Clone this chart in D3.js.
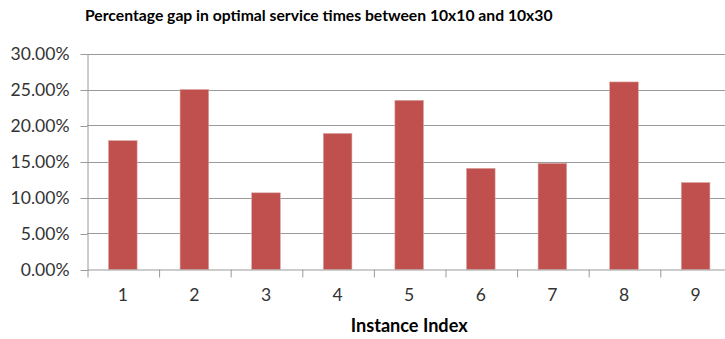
<!DOCTYPE html>
<html>
<head>
<meta charset="utf-8">
<script src="https://cdn.jsdelivr.net/npm/d3@7/dist/d3.min.js"></script>
<style>
  html, body { margin: 0; padding: 0; background: #fff; }
  svg { display: block; overflow: hidden; }
  text { font-family: Lato, "Open Sans", sans-serif; }
</style>
</head>
<body>
<svg id="chart" width="725" height="339"></svg>
<script>
// Instance indices and the percentage gap per instance
const instances = ["1", "2", "3", "4", "5", "6", "7", "8", "9"];
const gapValues = [0.179, 0.250, 0.1065, 0.189, 0.235, 0.1405, 0.1475, 0.2605, 0.1208];
const yTicks = [0, 0.05, 0.10, 0.15, 0.20, 0.25, 0.30];
const titleText = "Percentage gap in optimal service times between 10x10 and 10x30";
const xTitleText = "Instance Index";

const svg = d3.select("#chart");

// plot area (the right edge of the category axis runs past the visible frame)
const plotLeft = 87, plotRight = 731.4, plotTop = 53.5, plotBottom = 269.5;

const x = d3.scaleBand().domain(instances).range([plotLeft, plotRight]).paddingInner(0.6).paddingOuter(0.3);
const xEdge = d3.scaleLinear().domain([0, instances.length]).range([plotLeft, plotRight]);
const y = d3.scaleLinear().domain([0, 0.30]).range([plotBottom, plotTop]);

const gridColor = "#9a9a9a";
const fontStack = "Lato, 'Open Sans', sans-serif";

// scale a text element's font size so its width matches a target
function fitWidth(sel, target, base) {
  sel.attr("font-size", base);
  const w = sel.node().getComputedTextLength();
  const size = base * target / w;
  sel.attr("font-size", size);
  return size;
}

// tick label size chosen so the widest percentage label spans ~59px
const probe = svg.append("text").attr("font-family", fontStack).text(d3.format(".2%")(0.30));
const tickFontSize = fitWidth(probe, 59, 16);
probe.remove();

// horizontal gridlines
svg.append("g")
  .selectAll("line")
  .data(yTicks.filter(d => d > 0))
  .join("line")
  .attr("x1", plotLeft).attr("x2", plotRight)
  .attr("y1", d => Math.round(y(d)) + 0.5)
  .attr("y2", d => Math.round(y(d)) + 0.5)
  .attr("stroke", gridColor).attr("stroke-width", 1);

// bars
svg.append("g")
  .selectAll("rect")
  .data(instances.map((k, i) => ({ k, v: gapValues[i] })))
  .join("rect")
  .attr("x", d => x(d.k))
  .attr("width", x.bandwidth())
  .attr("y", d => y(d.v))
  .attr("height", d => y(0) - y(d.v))
  .attr("fill", "#C0504D")
  .attr("stroke", "#d9a8a6").attr("stroke-width", 0.6);

// y axis
const yAxis = svg.append("g")
  .attr("transform", `translate(${plotLeft + 0.5},0.5)`)
  .call(d3.axisLeft(y).tickValues(yTicks).tickFormat(d3.format(".2%")).tickSize(7).tickPadding(11).tickSizeOuter(0));
yAxis.selectAll("line, path").attr("stroke", gridColor);
yAxis.selectAll("text").attr("font-size", tickFontSize).attr("fill", "#333")
  .attr("font-family", fontStack);

// x axis: boundary ticks
const xAxisLine = svg.append("g")
  .attr("transform", `translate(0.5,${plotBottom})`)
  .call(d3.axisBottom(xEdge).tickValues(d3.range(0, instances.length + 1)).tickFormat("").tickSize(8).tickSizeOuter(0));
xAxisLine.selectAll("line, path").attr("stroke", gridColor);

// x axis: category labels
const xLabels = svg.append("g")
  .attr("transform", `translate(0,${plotBottom})`)
  .call(d3.axisBottom(x).tickSize(0).tickPadding(19));
xLabels.select("path").remove();
xLabels.selectAll("text").attr("font-size", tickFontSize).attr("fill", "#333")
  .attr("font-family", fontStack);

// chart title
const title = svg.append("text")
  .attr("x", 85).attr("y", 21)
  .attr("font-weight", "bold").attr("fill", "#000")
  .text(titleText);
fitWidth(title, 468, 15);

// x axis title
const xTitle = svg.append("text")
  .attr("x", (plotLeft + plotRight) / 2).attr("y", 331.5)
  .attr("text-anchor", "middle")
  .attr("font-weight", "bold").attr("fill", "#000")
  .text(xTitleText);
fitWidth(xTitle, 117, 17);
</script>
</body>
</html>
